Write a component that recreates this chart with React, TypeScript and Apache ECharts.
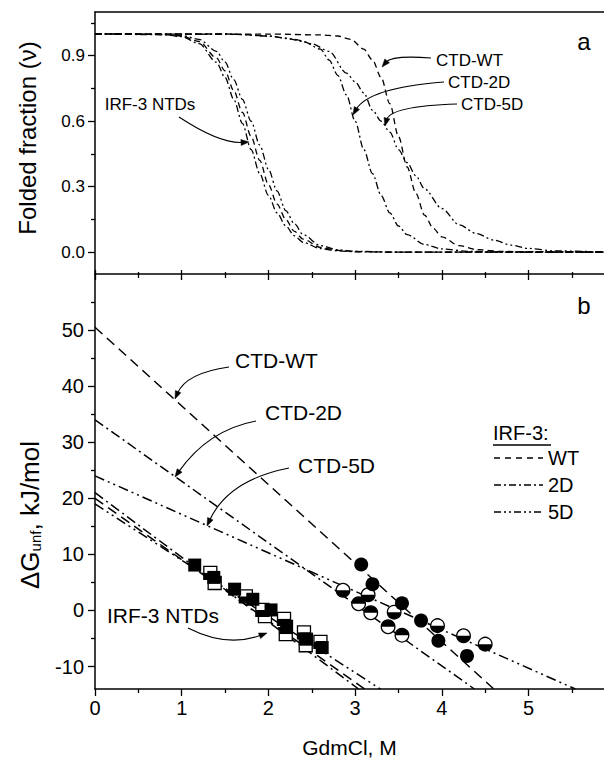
import React, { useEffect, useRef } from "react";
import * as echarts from "echarts";

const FONT = "'Liberation Sans', Arial, Helvetica, sans-serif";
const X_MAX = 5.87;

// tick values
const xMajorTicks = [0, 1, 2, 3, 4, 5];
const xMinorTicks = [0.5, 1.5, 2.5, 3.5, 4.5, 5.5];
const foldedTicks = [0, 0.3, 0.6, 0.9];
const foldedMinorTicks = [0.15, 0.45, 0.75, 1.05];
const dgTicks = [-10, 0, 10, 20, 30, 40, 50];
const dgMinorTicks = [-5, 5, 15, 25, 35, 45, 55];

// panel a: folded fraction curves (GdmCl M, fraction)
const ntdWTCurve = [[0, 1], [0.8, 0.997], [1.0, 0.99], [1.2, 0.965], [1.4, 0.89], [1.5, 0.83], [1.6, 0.74], [1.7, 0.64], [1.8, 0.53], [1.9, 0.42], [2.0, 0.31], [2.1, 0.22], [2.2, 0.15], [2.3, 0.095], [2.4, 0.06], [2.6, 0.022], [2.8, 0.008], [3.0, 0.003], [3.4, 0.0005], [5.87, 0]];
const ntd2DCurve = [[0, 1], [0.8, 0.996], [1.0, 0.987], [1.2, 0.955], [1.4, 0.87], [1.5, 0.8], [1.6, 0.7], [1.7, 0.59], [1.8, 0.47], [1.9, 0.36], [2.0, 0.26], [2.1, 0.18], [2.2, 0.12], [2.3, 0.075], [2.4, 0.045], [2.6, 0.016], [2.8, 0.006], [3.0, 0.002], [3.4, 0.0003], [5.87, 0]];
const ntd5DCurve = [[0, 1], [0.8, 0.997], [1.0, 0.992], [1.2, 0.975], [1.4, 0.92], [1.5, 0.87], [1.6, 0.79], [1.7, 0.7], [1.8, 0.6], [1.9, 0.49], [2.0, 0.38], [2.1, 0.28], [2.2, 0.19], [2.3, 0.13], [2.4, 0.08], [2.6, 0.03], [2.8, 0.011], [3.0, 0.004], [3.4, 0.0006], [5.87, 0]];
const ctdWTCurve = [[0, 1], [2.0, 0.999], [2.6, 0.995], [2.8, 0.99], [2.95, 0.975], [3.1, 0.93], [3.2, 0.88], [3.3, 0.8], [3.4, 0.68], [3.5, 0.53], [3.6, 0.39], [3.7, 0.27], [3.8, 0.17], [3.9, 0.11], [4.0, 0.07], [4.2, 0.03], [4.4, 0.012], [4.7, 0.003], [5.87, 0]];
const ctd2DCurve = [[0, 1], [1.6, 0.998], [2.0, 0.99], [2.2, 0.98], [2.4, 0.965], [2.6, 0.93], [2.7, 0.88], [2.8, 0.81], [2.9, 0.72], [3.0, 0.6], [3.1, 0.47], [3.2, 0.36], [3.3, 0.26], [3.4, 0.18], [3.5, 0.12], [3.6, 0.08], [3.8, 0.035], [4.0, 0.015], [4.3, 0.004], [4.8, 0.0005], [5.87, 0]];
const ctd5DCurve = [[0, 1], [1.6, 0.998], [2.0, 0.99], [2.3, 0.975], [2.5, 0.955], [2.7, 0.92], [2.9, 0.82], [3.0, 0.78], [3.1, 0.73], [3.2, 0.65], [3.3, 0.6], [3.4, 0.55], [3.5, 0.47], [3.6, 0.41], [3.7, 0.35], [3.8, 0.29], [4.0, 0.2], [4.2, 0.125], [4.4, 0.085], [4.6, 0.055], [4.8, 0.032], [5.0, 0.017], [5.3, 0.006], [5.87, 0.001]];

// panel b: linear fits of dG (kJ/mol) vs GdmCl
const ctdWTLine = [[0, 50.5], [4.6, -14]];
const ctd2DLine = [[0, 34], [4.375, -14]];
const ctd5DLine = [[0, 24], [5.54, -14]];
const ntdWTLine = [[0, 20], [3.11, -14]];
const ntd2DLine = [[0, 21], [3.04, -14]];
const ntd5DLine = [[0, 19], [3.29, -14]];

// panel b: measured points
const ntdWTPoints = [[1.15, 8.1], [1.37, 5.9], [1.61, 3.8], [1.82, 2.0], [2.03, 0.1], [2.21, -2.8], [2.44, -5.1], [2.62, -6.6]];
const ntd2DPoints = [[1.38, 4.9], [1.96, -1.0], [2.2, -4.2], [2.43, -6.2]];
const ntd5DPoints = [[1.33, 6.7], [1.74, 2.5], [1.93, 0.1], [2.18, -1.5], [2.41, -3.9], [2.6, -5.6]];
const ctdWTPoints = [[3.07, 8.2], [3.2, 4.7], [3.54, 1.3], [3.76, -1.8], [3.96, -5.4], [4.29, -8.1]];
const ctd2DPoints = [[3.04, 1.2], [3.18, -0.4], [3.38, -2.9], [3.54, -4.4]];
const ctd5DPoints = [[2.86, 3.6], [3.15, 2.8], [3.45, -0.3], [3.95, -2.7], [4.25, -4.5], [4.5, -6.0]];

const DASH_A = [6, 4];
const DASHDOT_A = [7, 3, 2, 3];
const DASHDOTDOT_A = [7, 3, 2, 3, 2, 3];
const DASH_B = [10, 6];
const DASHDOT_B = [10, 4, 2, 4];
const DASHDOTDOT_B = [10, 4, 2, 4, 2, 4];

function curvedArrow(x0: number, y0: number, cx: number, cy: number, x1: number, y1: number) {
  const dx = x1 - cx, dy = y1 - cy;
  const len = Math.sqrt(dx * dx + dy * dy) || 1;
  const ux = dx / len, uy = dy / len;
  const hl = 8, hw = 3;
  const bx = x1 - ux * hl, by = y1 - uy * hl;
  return [
    {
      type: "bezierCurve",
      silent: true,
      shape: { x1: x0, y1: y0, x2: bx + ux * 2, y2: by + uy * 2, cpx1: cx, cpy1: cy },
      style: { stroke: "#000", lineWidth: 1.1, fill: null },
    },
    {
      type: "polygon",
      silent: true,
      shape: { points: [[x1, y1], [bx - uy * hw, by + ux * hw], [bx + uy * hw, by - ux * hw]] },
      style: { fill: "#000", stroke: "#000", lineWidth: 0.5 },
    },
  ];
}

function label(text: string, x: number, y: number, size: number, align = "left") {
  return {
    type: "text",
    silent: true,
    x,
    y,
    style: { text, fontSize: size, fontFamily: FONT, fill: "#000", align, verticalAlign: "middle" },
  };
}

function halfCircle(topBlack: boolean) {
  return (params: any, api: any) => {
    const p = api.coord([api.value(0), api.value(1)]);
    const r = 6.8;
    return {
      type: "group",
      children: [
        { type: "circle", shape: { cx: p[0], cy: p[1], r }, style: { fill: "#ffffff", stroke: "#000000", lineWidth: 1.3 } },
        {
          type: "sector",
          shape: { cx: p[0], cy: p[1], r0: 0, r, startAngle: topBlack ? Math.PI : 0, endAngle: topBlack ? Math.PI * 2 : Math.PI },
          style: { fill: "#000000" },
        },
      ],
    };
  };
}

function halfSquare(topBlack: boolean) {
  return (params: any, api: any) => {
    const p = api.coord([api.value(0), api.value(1)]);
    const h = 6.5;
    return {
      type: "group",
      children: [
        { type: "rect", shape: { x: p[0] - h, y: p[1] - h, width: 2 * h, height: 2 * h }, style: { fill: "#ffffff", stroke: "#000000", lineWidth: 1.3 } },
        { type: "rect", shape: { x: p[0] - h, y: topBlack ? p[1] - h : p[1], width: 2 * h, height: h }, style: { fill: "#000000" } },
      ],
    };
  };
}

function xAxisDef(gridIndex: number, position: string, extra: any) {
  return {
    type: "value",
    gridIndex,
    position,
    min: 0,
    max: X_MAX,
    splitLine: { show: false },
    axisLine: { show: false, onZero: false, lineStyle: { color: "#000", width: 1.5 } },
    axisTick: { show: false },
    axisLabel: { show: false },
    ...extra,
  };
}

function yAxisDef(gridIndex: number, min: number, max: number, extra: any) {
  return {
    type: "value",
    gridIndex,
    position: "left",
    min,
    max,
    splitLine: { show: false },
    axisLine: { show: false, onZero: false, lineStyle: { color: "#000", width: 1.5 } },
    axisTick: { show: false },
    axisLabel: { show: false },
    ...extra,
  };
}

const tickStyle = { color: "#000", width: 1.3 };

export default function App() {
  const ref = useRef<HTMLDivElement>(null);
  useEffect(() => {
    document.body.style.margin = "0";
    if (!ref.current) return;
    const chart = echarts.init(ref.current, null, { renderer: "svg" });

    const lineSeries = (data: number[][], dash: number[], top: boolean) => ({
      type: "line",
      xAxisIndex: top ? 0 : 3,
      yAxisIndex: top ? 0 : 2,
      data,
      symbol: "none",
      showSymbol: false,
      silent: true,
      smooth: top ? 0.3 : false,
      smoothMonotone: "x",
      lineStyle: { color: "#000", width: top ? 1.3 : 1.5, type: dash },
      z: 2,
    });

    const option: any = {
      animation: false,
      grid: [
        { left: 95, top: 12, right: 0, height: 262, show: false },
        { left: 95, top: 274, right: 0, height: 418, show: false },
      ],
      xAxis: [
        xAxisDef(0, "bottom", {
          axisLine: { show: true, onZero: false, lineStyle: { color: "#000", width: 1.5 } },
          axisTick: { show: true, inside: true, length: 4, customValues: xMajorTicks, lineStyle: tickStyle },
        }),
        xAxisDef(0, "bottom", {
          axisTick: { show: true, inside: true, length: 2, customValues: xMinorTicks, lineStyle: tickStyle },
        }),
        xAxisDef(0, "top", {
          axisLine: { show: true, onZero: false, lineStyle: { color: "#000", width: 1.5 } },
        }),
        xAxisDef(1, "bottom", {
          axisLine: { show: true, onZero: false, lineStyle: { color: "#000", width: 1.5 } },
          axisTick: { show: true, inside: false, length: 7, customValues: xMajorTicks, lineStyle: tickStyle },
          axisLabel: { show: true, customValues: xMajorTicks, fontSize: 20, fontFamily: FONT, color: "#000", margin: 9 },
          name: "GdmCl, M",
          nameLocation: "middle",
          nameGap: 48,
          nameTextStyle: { fontSize: 21, fontFamily: FONT, color: "#000" },
        }),
        xAxisDef(1, "bottom", {
          axisTick: { show: true, inside: false, length: 4, customValues: xMinorTicks, lineStyle: tickStyle },
        }),
        xAxisDef(1, "top", {
          axisTick: { show: true, inside: true, length: 6, customValues: xMajorTicks, lineStyle: tickStyle },
        }),
        xAxisDef(1, "top", {
          axisTick: { show: true, inside: true, length: 4, customValues: xMinorTicks, lineStyle: tickStyle },
        }),
      ],
      yAxis: [
        yAxisDef(0, -0.1, 1.1, {
          axisLine: { show: true, onZero: false, lineStyle: { color: "#000", width: 1.5 } },
          axisTick: { show: true, inside: false, length: 7, customValues: foldedTicks, lineStyle: tickStyle },
          axisLabel: {
            show: true,
            customValues: foldedTicks,
            formatter: (v: number) => v.toFixed(1),
            fontSize: 17,
            fontFamily: FONT,
            color: "#000",
            margin: 10,
          },
        }),
        yAxisDef(0, -0.1, 1.1, {
          axisTick: { show: true, inside: false, length: 4, customValues: foldedMinorTicks, lineStyle: tickStyle },
        }),
        yAxisDef(1, -14, 60, {
          axisLine: { show: true, onZero: false, lineStyle: { color: "#000", width: 1.5 } },
          axisTick: { show: true, inside: false, length: 7, customValues: dgTicks, lineStyle: tickStyle },
          axisLabel: { show: true, customValues: dgTicks, fontSize: 20, fontFamily: FONT, color: "#000", margin: 11 },
        }),
        yAxisDef(1, -14, 60, {
          axisTick: { show: true, inside: false, length: 4, customValues: dgMinorTicks, lineStyle: tickStyle },
        }),
      ],
      series: [
        lineSeries(ntdWTCurve, DASH_A, true),
        lineSeries(ntd2DCurve, DASHDOT_A, true),
        lineSeries(ntd5DCurve, DASHDOTDOT_A, true),
        lineSeries(ctdWTCurve, DASH_A, true),
        lineSeries(ctd2DCurve, DASHDOT_A, true),
        lineSeries(ctd5DCurve, DASHDOTDOT_A, true),
        lineSeries(ctdWTLine, DASH_B, false),
        lineSeries(ctd2DLine, DASHDOT_B, false),
        lineSeries(ctd5DLine, DASHDOTDOT_B, false),
        lineSeries(ntdWTLine, DASH_B, false),
        lineSeries(ntd2DLine, DASHDOT_B, false),
        lineSeries(ntd5DLine, DASHDOTDOT_B, false),
        {
          type: "custom",
          xAxisIndex: 3,
          yAxisIndex: 2,
          data: ntd2DPoints,
          renderItem: halfSquare(true),
          silent: true,
          z: 5,
        },
        {
          type: "custom",
          xAxisIndex: 3,
          yAxisIndex: 2,
          data: ntd5DPoints,
          renderItem: halfSquare(false),
          silent: true,
          z: 5,
        },
        {
          type: "scatter",
          xAxisIndex: 3,
          yAxisIndex: 2,
          data: ntdWTPoints,
          symbol: "rect",
          symbolSize: 13,
          itemStyle: { color: "#000000", opacity: 1 },
          silent: true,
          z: 6,
        },
        {
          type: "custom",
          xAxisIndex: 3,
          yAxisIndex: 2,
          data: ctd2DPoints,
          renderItem: halfCircle(true),
          silent: true,
          z: 5,
        },
        {
          type: "custom",
          xAxisIndex: 3,
          yAxisIndex: 2,
          data: ctd5DPoints,
          renderItem: halfCircle(false),
          silent: true,
          z: 5,
        },
        {
          type: "scatter",
          xAxisIndex: 3,
          yAxisIndex: 2,
          data: ctdWTPoints,
          symbol: "circle",
          symbolSize: 14,
          itemStyle: { color: "#000000", opacity: 1 },
          silent: true,
          z: 6,
        },
      ],
      graphic: [
        // axis names
        {
          type: "text",
          silent: true,
          x: 27,
          y: 138,
          rotation: Math.PI / 2,
          style: { text: "Folded fraction (ν)", fontSize: 24, fontFamily: FONT, fill: "#000", align: "center", verticalAlign: "middle" },
        },
        {
          type: "text",
          silent: true,
          x: 28,
          y: 515,
          rotation: Math.PI / 2,
          style: {
            text: "{a|ΔG}{s|unf}{a|, kJ/mol}",
            align: "center",
            verticalAlign: "middle",
            rich: {
              a: { fontSize: 26, fontFamily: FONT, fill: "#000", lineHeight: 30, verticalAlign: "bottom" },
              s: { fontSize: 15, fontFamily: FONT, fill: "#000", lineHeight: 12, verticalAlign: "bottom" },
            },
          },
        },
        // panel letters
        label("a", 584, 41, 24, "center"),
        label("b", 584, 305, 24, "center"),
        // panel a annotations
        label("CTD-WT", 436, 60, 17),
        label("CTD-2D", 448, 82, 17),
        label("CTD-5D", 461, 104, 17),
        label("IRF-3 NTDs", 150, 104, 17, "center"),
        ...curvedArrow(431, 58, 392, 55, 382, 67),
        ...curvedArrow(444, 82, 368, 88, 353, 115),
        ...curvedArrow(457, 104, 390, 106, 385, 126),
        ...curvedArrow(179, 117, 220, 144, 249, 142),
        // panel b annotations
        label("CTD-WT", 235, 360, 21),
        label("CTD-2D", 265, 412, 21),
        label("CTD-5D", 298, 465, 21),
        label("IRF-3 NTDs", 163, 615, 21, "center"),
        ...curvedArrow(229, 367, 186, 373, 175, 399),
        ...curvedArrow(256, 421, 208, 430, 175, 477),
        ...curvedArrow(289, 468, 228, 480, 207, 526),
        ...curvedArrow(188, 628, 227, 648, 267, 633),
        // legend
        label("IRF-3:", 493, 433, 20),
        {
          type: "line",
          silent: true,
          shape: { x1: 493, y1: 445, x2: 551, y2: 445 },
          style: { stroke: "#000", lineWidth: 1.3 },
        },
        {
          type: "line",
          silent: true,
          shape: { x1: 494, y1: 458, x2: 543, y2: 458 },
          style: { stroke: "#000", lineWidth: 1.4, lineDash: [6, 5] },
        },
        {
          type: "line",
          silent: true,
          shape: { x1: 494, y1: 485, x2: 543, y2: 485 },
          style: { stroke: "#000", lineWidth: 1.4, lineDash: [7, 3, 2, 3] },
        },
        {
          type: "line",
          silent: true,
          shape: { x1: 494, y1: 512, x2: 543, y2: 512 },
          style: { stroke: "#000", lineWidth: 1.4, lineDash: [7, 3, 2, 3, 2, 3] },
        },
        label("WT", 548, 458, 20),
        label("2D", 548, 485, 20),
        label("5D", 548, 512, 20),
      ],
    };
    chart.setOption(option);
    return () => chart.dispose();
  }, []);
  return <div ref={ref} style={{ width: 604, height: 763 }} />;
}
